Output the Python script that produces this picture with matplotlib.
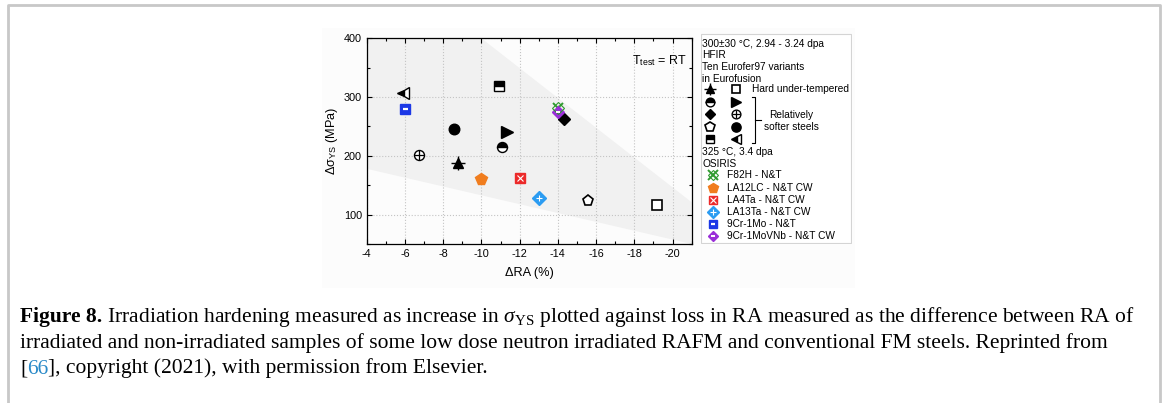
import matplotlib
matplotlib.use("Agg")
import matplotlib.pyplot as plt
from matplotlib.lines import Line2D
from matplotlib.patches import Rectangle

plt.rcParams['font.family'] = ['Liberation Sans', 'DejaVu Sans']
plt.rcParams['axes.unicode_minus'] = False
plt.rcParams['mathtext.fontset'] = 'custom'
plt.rcParams['mathtext.rm'] = 'Liberation Serif'
plt.rcParams['mathtext.it'] = 'Liberation Serif:italic'
plt.rcParams['mathtext.bf'] = 'Liberation Serif:bold'
plt.rcParams['mathtext.sf'] = 'Liberation Sans'

# HFIR, 300+-30 C, ten Eurofer97 variants (first five = left legend column)
hfir_style = ['tri_cross', 'half_circle', 'diamond', 'pentagon_open', 'half_square',
              'square_open', 'tri_right', 'circle_plus', 'circle', 'tri_left_half']
hfir_dra = [-8.75, -11.07, -14.3, -15.55, -10.93, -19.2, -11.33, -6.71, -8.57, -5.92]
hfir_dsig = [188, 215, 262, 124, 318, 116, 241, 201, 245, 307]

# OSIRIS, 325 C, 3.4 dpa
osiris_labels = ['F82H - N&T', 'LA12LC - N&T CW', 'LA4Ta - N&T CW',
                 'LA13Ta - N&T CW', '9Cr-1Mo - N&T', '9Cr-1MoVNb - N&T CW']
osiris_dra = [-14.0, -10.0, -12.0, -13.0, -6.0, -14.0]
osiris_dsig = [281, 160, 162, 129, 280, 274]
osiris_style = ['f82h', 'la12lc', 'la4ta', 'la13ta', 'cr1mo', 'cr1movnb']

# grey scatter band
band_x = [-4, -10, -21, -21, -4]
band_y = [400, 400, 121, 50, 178]

STYLES = {
    'tri_cross': [dict(marker='^', mfc='k', mec='k', s=0.85), dict(marker='+', mec='k', mew=1.0, s=1.25)],
    'half_circle': [dict(marker='o', fillstyle='top', mfc='k', mfcalt='w', mec='k', s=0.9)],
    'diamond': [dict(marker='D', mfc='k', mec='k', s=0.8)],
    'pentagon_open': [dict(marker='p', mfc='w', mec='k', mew=1.2, s=1.0)],
    'half_square': [dict(marker='s', fillstyle='top', mfc='k', mfcalt='w', mec='k', s=0.85)],
    'square_open': [dict(marker='s', mfc='w', mec='k', mew=1.2, s=0.85)],
    'tri_right': [dict(marker='>', mfc='k', mec='k', s=1.0)],
    'circle_plus': [dict(marker='o', mfc='w', mec='k', mew=1.0, s=0.9), dict(marker='+', mec='k', mew=0.9, s=0.9)],
    'circle': [dict(marker='o', mfc='k', mec='k', s=0.95)],
    'tri_left_half': [dict(marker='<', fillstyle='left', mfc='k', mfcalt='w', mec='k', mew=1.0, s=1.0)],
    'f82h': [dict(marker='x', mec='#2f9a2f', mew=1.4, s=0.95), dict(marker='D', mfc='none', mec='#2f9a2f', mew=0.8, s=0.75)],
    'la12lc': [dict(marker='p', mfc='#f07d1e', mec='#f07d1e', s=1.05)],
    'la4ta': [dict(marker='s', mfc='#ec2a2a', mec='#ec2a2a', s=0.85), dict(marker='x', mec='w', mew=0.8, s=0.55)],
    'la13ta': [dict(marker='D', mfc='#2b9cf2', mec='#2b9cf2', s=0.85), dict(marker='+', mec='w', mew=0.8, s=0.6)],
    'cr1mo': [dict(marker='s', mfc='#1c38e6', mec='#1c38e6', s=0.85), dict(marker='_', mec='w', mew=1.6, s=0.45)],
    'cr1movnb': [dict(marker='D', mfc='#9a2fd8', mec='#9a2fd8', s=0.8), dict(marker='_', mec='w', mew=1.4, s=0.35)],
}


def draw(ax, x, y, style, ms, zorder=5):
    for layer in STYLES[style]:
        kw = dict(marker=layer['marker'], ms=ms * layer['s'], mec=layer['mec'],
                  mew=layer.get('mew', 1.0), ls='none', zorder=zorder)
        if 'mfc' in layer:
            kw['mfc'] = layer['mfc']
        if 'fillstyle' in layer:
            kw['fillstyle'] = layer['fillstyle']
            kw['markerfacecoloralt'] = layer['mfcalt']
        ax.plot(x, y, clip_on=False, **kw)
        zorder += 0.1


W, H = 1167, 403
fig = plt.figure(figsize=(W / 100, H / 100), dpi=100)

# faint backdrop of the reproduced chart image
fig.add_artist(Rectangle((322 / W, 1 - 288 / H), 533 / W, 260 / H,
                         transform=fig.transFigure, fc='#fcfcfc', ec='none', zorder=-5))
# page frame
fig.add_artist(Line2D([7.5 / W, 7.5 / W, 1160 / W, 1160 / W], [0, 1 - 5 / H, 1 - 5 / H, 0],
                      transform=fig.transFigure, color='#c8c8c8', lw=2))

ax = fig.add_axes([366.7 / W, 1 - 244 / H, 325 / W, 205.7 / H])
ax.set_facecolor('none')
ax.fill(band_x, band_y, color='#f1f1f1', lw=0, zorder=0)
for i in range(len(hfir_style)):
    draw(ax, hfir_dra[i], hfir_dsig[i], hfir_style[i], 8)
for i in range(len(osiris_style)):
    draw(ax, osiris_dra[i], osiris_dsig[i], osiris_style[i], 8)

ax.set_xlim(-4, -21)
ax.set_ylim(50, 400)
ax.set_xticks(range(-4, -21, -2))
ax.set_xticks(range(-5, -22, -2), minor=True)
ax.set_yticks([100, 200, 300, 400])
ax.set_yticks([50, 150, 250, 350], minor=True)
ax.grid(True, which='major', color='#c4c4c4', ls=':', lw=0.8, zorder=1)
ax.set_axisbelow(True)
ax.tick_params(which='both', direction='in', top=True, right=True, labelsize=7.8, width=0.8)
ax.tick_params(which='major', length=3.5)
ax.tick_params(which='minor', length=2)
for s in ax.spines.values():
    s.set_linewidth(0.9)
ax.set_xlabel('ΔRA (%)', fontsize=9.2, labelpad=6)
ax.set_ylabel(r'Δσ$_{\mathsf{YS}}$ (MPa)', fontsize=9.2, labelpad=3)
ax.text(0.985, 0.89, r'T$_{\mathsf{test}}$ = RT', transform=ax.transAxes,
        ha='right', va='center', fontsize=9)

# hand-built legend in pixel coordinates
lg = fig.add_axes([701 / W, 1 - 244 / H, 151 / W, 211 / H])
lg.set_xlim(701, 852)
lg.set_ylim(244, 33)
lg.axis('off')
lg.add_patch(Rectangle((701, 33.5), 150.5, 210, fc='w', ec='#d4d4d4', lw=0.8))
fs = 7.3
for yy, txt in zip([44, 55.5, 67, 78.5],
                   ['300±30 °C, 2.94 - 3.24 dpa', 'HFIR', 'Ten Eurofer97 variants', 'in Eurofusion']):
    lg.text(702.5, yy, txt, fontsize=fs, va='center')
rows = [89.5, 102.5, 114.5, 127, 139.5]
for i, st in enumerate(hfir_style):
    draw(lg, [710, 736.5][i // 5], rows[i % 5], st, 7)
lg.text(752, rows[0], 'Hard under-tempered', fontsize=fs, va='center')
lg.plot([752, 755.5, 755.5, 752], [97, 97, 143.5, 143.5], color='k', lw=0.8)
lg.plot([755.5, 761], [120, 120], color='k', lw=0.8)
lg.text(791, 115, 'Relatively', fontsize=fs, va='center', ha='center')
lg.text(791, 127, 'softer steels', fontsize=fs, va='center', ha='center')
lg.text(702.5, 152.5, '325 °C, 3.4 dpa', fontsize=fs, va='center')
lg.text(702.5, 164, 'OSIRIS', fontsize=fs, va='center')
for i, st in enumerate(osiris_style):
    yy = 175.5 + i * 12.2
    draw(lg, 713, yy, st, 7)
    lg.text(727, yy, osiris_labels[i], fontsize=fs, va='center')

# caption
cap_fs = 15.5
serif = 'Liberation Serif'
b = fig.text(20 / W, 1 - 317 / H, 'Figure 8.', fontsize=cap_fs, family=serif,
             weight='bold', va='center')
ax.annotate(' Irradiation hardening measured as increase in '
            r'$\mathit{\sigma}_{\rm YS}$ plotted against loss in RA measured as the difference between RA of',
            xy=(1, 0.5), xycoords=b, va='center', ha='left', fontsize=cap_fs, family=serif,
            annotation_clip=False)
fig.text(20 / W, 1 - 343 / H,
         'irradiated and non-irradiated samples of some low dose neutron irradiated RAFM '
         'and conventional FM steels. Reprinted from',
         fontsize=cap_fs, family=serif, va='center')
t0 = fig.text(20 / W, 1 - 369 / H, '[', fontsize=cap_fs, family=serif, va='center')
t1 = ax.annotate('66', xy=(1, 0), xycoords=t0, va='bottom', ha='left', fontsize=cap_fs,
                 family=serif, color='#2a8ac8', annotation_clip=False)
ax.annotate('], copyright (2021), with permission from Elsevier.', xy=(1, 0), xycoords=t1,
            va='bottom', ha='left', fontsize=cap_fs, family=serif, annotation_clip=False)

fig.savefig('out.png', dpi=100)
